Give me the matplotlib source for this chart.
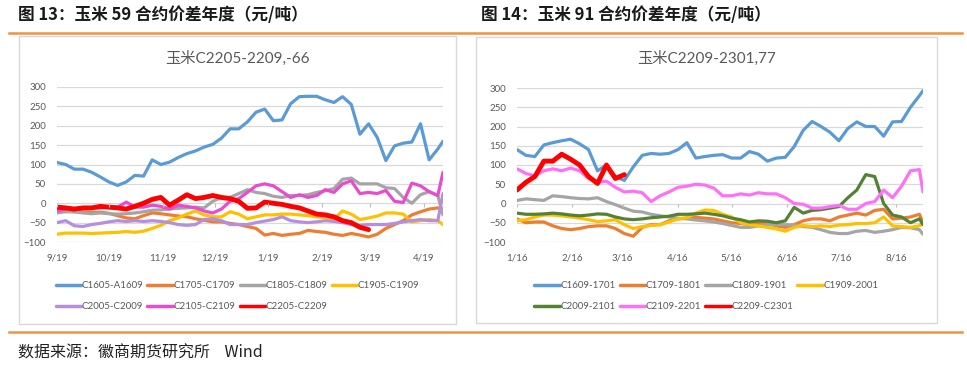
import matplotlib
matplotlib.use("Agg")
import matplotlib.pyplot as plt
import numpy as np
import pandas as pd
from matplotlib.lines import Line2D
from matplotlib.patches import Rectangle

nan = np.nan
CN = ["Noto Sans CJK SC", "DejaVu Sans"]
LAT = ["Lato", "Noto Sans CJK SC", "DejaVu Sans"]

# -------------------------------------------------------------------
# 图13 : 玉米 59 价差
# -------------------------------------------------------------------
dates_59 = list(pd.date_range("2021-09-19", periods=45, freq="5D")) + [pd.Timestamp("2022-04-30")]
names_59 = ["C1605-A1609", "C1705-C1709", "C1805-C1809", "C1905-C1909",
            "C2005-C2009", "C2105-C2109", "C2205-C2209"]
c1605 = [105, 100, 88, 88, 80, 68, 55, 46, 55, 72, 70, 112, 100, 106, 118, 128, 135, 145, 152, 168,
         192, 192, 210, 235, 243, 213, 215, 257, 275, 276, 276, 267, 260, 275, 255, 178, 205, 170,
         110, 148, 155, 158, 205, 112, 140, 160]
c1705 = [-20, -20, -22, -22, -24, -23, -26, -32, -38, -40, -32, -25, -27, -30, -33, -35, -40, -44,
         -48, -48, -52, -55, -60, -65, -82, -78, -83, -80, -78, -70, -73, -75, -80, -83, -78, -82,
         -87, -80, -65, -55, -45, -30, -22, -15, -12, -15]
c1805 = [-25, -22, -22, -25, -27, -25, -27, -28, -27, -25, -22, -18, -17, -15, -13, -12, -10, -12,
         5, 15, 15, 25, 35, 28, 25, 18, 15, 20, 20, 22, 28, 32, 38, 62, 65, 50, 50, 50, 40, 38, 15,
         0, 22, 30, 20, -30]
c1905 = [-80, -77, -77, -77, -78, -77, -76, -75, -73, -75, -72, -65, -57, -45, -38, -28, -20, -30,
         -35, -35, -22, -28, -40, -35, -30, -30, -28, -28, -30, -32, -35, -37, -40, -20, -28, -42,
         -38, -33, -25, -25, -28, -48, -45, -42, -45, -55]
c2005 = [-50, -45, -58, -60, -55, -52, -48, -45, -47, -45, -47, -45, -47, -50, -55, -57, -55, -42,
         -40, -45, -55, -55, -55, -50, -46, -42, -35, -45, -48, -50, -48, -45, -47, -50, -55, -57,
         -55, -55, -55, -52, -48, -45, -42, -45, -45, 25]
c2105 = [-20, -15, -17, -13, -12, -12, -10, -10, 3, -10, -10, -5, -8, -15, -5, -8, -12, -20, -25,
         -15, 5, 12, 28, 45, 50, 45, 30, 15, 22, 15, 20, 35, 28, 50, 58, 25, 28, 25, 33, 5, 2, 52,
         45, 30, 20, 80]
c2205 = [-10, -12, -15, -12, -12, -8, -10, -12, -15, -8, 0, 10, 15, -5, 8, 22, 12, 15, 20, 15, 12,
         5, -13, -12, 3, 0, -3, -8, -12, -20, -28, -30, -35, -45, -50, -62, -68] + [nan] * 9
ticks_59 = ["2021-09-19", "2021-10-19", "2021-11-19", "2021-12-19",
            "2022-01-19", "2022-02-19", "2022-03-19", "2022-04-19"]
labels_59 = ["9/19", "10/19", "11/19", "12/19", "1/19", "2/19", "3/19", "4/19"]

# -------------------------------------------------------------------
# 图14 : 玉米 91 价差
# -------------------------------------------------------------------
dates_91 = list(pd.date_range("2022-01-16", periods=46, freq="5D")) + [pd.Timestamp("2022-08-31")]
names_91 = ["C1609-1701", "C1709-1801", "C1809-1901", "C1909-2001",
            "C2009-2101", "C2109-2201", "C2209-C2301"]
c1609 = [140, 125, 122, 152, 158, 163, 167, 155, 140, 85, 100, 70, 60, 95, 125, 130, 128, 130, 140,
         158, 118, 122, 125, 127, 118, 118, 135, 128, 110, 118, 120, 148, 190, 213, 200, 185, 163,
         195, 212, 200, 200, 175, 212, 213, 250, 280, 293]
c1709 = [-40, -50, -48, -48, -58, -65, -68, -65, -60, -58, -58, -65, -78, -85, -62, -55, -55, -45,
         -40, -38, -36, -38, -40, -45, -50, -52, -55, -52, -52, -58, -62, -55, -45, -40, -40, -45,
         -35, -30, -25, -30, -18, -15, -40, -38, -35, -28, -50]
c1809 = [8, 12, 10, 8, 20, 18, 15, 13, 12, 15, 5, -3, -12, -20, -22, -28, -32, -35, -38, -40, -43,
         -45, -48, -52, -57, -62, -62, -58, -55, -55, -55, -56, -60, -62, -68, -75, -78, -78, -72,
         -70, -75, -72, -68, -62, -63, -68, -80]
c1909 = [-45, -42, -35, -30, -30, -32, -35, -38, -42, -47, -45, -42, -55, -65, -60, -57, -55, -48,
         -40, -37, -25, -17, -18, -28, -35, -50, -55, -58, -62, -66, -72, -62, -57, -60, -58, -60,
         -56, -55, -52, -52, -50, -35, -58, -60, -62, -58, -50]
c2009 = [-25, -28, -28, -27, -25, -27, -30, -32, -30, -27, -28, -35, -40, -42, -40, -37, -35, -33,
         -28, -28, -27, -25, -28, -32, -38, -42, -48, -45, -46, -50, -45, -10, -25, -18, -16, -12,
         -8, 15, 35, 75, 70, 0, -30, -35, -50, -40, -55]
c2109 = [90, 78, 72, 85, 90, 85, 92, 85, 65, 55, 58, 42, 30, 32, 28, 5, 20, 30, 42, 45, 50, 48, 40,
         20, 20, 25, 22, 28, 25, 25, 15, 0, -2, -12, -12, -8, -5, -15, -15, 0, 5, 35, 15, 45, 85,
         88, 30]
c2209 = [35, 55, 70, 110, 110, 128, 115, 100, 70, 52, 100, 65, 75] + [nan] * 34
ticks_91 = ["2022-01-16", "2022-02-16", "2022-03-16", "2022-04-16",
            "2022-05-16", "2022-06-16", "2022-07-16", "2022-08-16"]
labels_91 = ["1/16", "2/16", "3/16", "4/16", "5/16", "6/16", "7/16", "8/16"]

W, H = 967, 366
fig = plt.figure(figsize=(W / 100, H / 100), dpi=100)


def fx(px):
    return px / W


def fy(py):
    return 1 - py / H


def draw_panel(box, plot, dates, names, series, colors, widths, title,
               ticks, labels, title_y, leg_y):
    x0, y0, x1, y1 = box
    fig.patches.append(Rectangle((fx(x0), fy(y1)), fx(x1 - x0), (y1 - y0) / H,
                                 transform=fig.transFigure, fill=False,
                                 ec="#D9D9D9", lw=1))
    px0, py0, px1, py1 = plot
    ax = fig.add_axes([fx(px0), fy(py1), fx(px1 - px0), (py1 - py0) / H])
    handles = []
    for n, v, c, w in zip(names, series, colors, widths):
        h, = ax.plot(dates, v, color=c, lw=w, label=n,
                     solid_joinstyle="round", solid_capstyle="round")
        handles.append(h)
    ax.set_ylim(-100, 300)
    ax.set_yticks(range(-100, 301, 50))
    ax.set_xlim(dates[0], dates[-1])
    tk = pd.to_datetime(ticks)
    ax.set_xticks(tk)
    ax.set_xticklabels(labels)
    ax.vlines(tk, -9, 0, color="#BFBFBF", lw=0.8)
    ax.grid(axis="y", color="#D9D9D9", lw=0.9)
    ax.set_axisbelow(True)
    for s in ax.spines.values():
        s.set_visible(False)
    ax.tick_params(length=0, labelsize=7, labelcolor="#595959", pad=8)
    for t in ax.get_xticklabels() + ax.get_yticklabels():
        t.set_family(LAT)
    fig.text(fx((x0 + x1) / 2), fy(title_y), title, ha="center", va="center",
             fontsize=11, color="#595959", family=LAT)
    # excel style legend: fill row by row (4 columns)
    order = [0, 4, 1, 5, 2, 6, 3]
    leg = ax.legend([handles[i] for i in order], [names[i] for i in order],
                    loc="center", bbox_to_anchor=(fx((x0 + x1) / 2), fy(leg_y)),
                    bbox_transform=fig.transFigure, ncol=4, frameon=False,
                    handlelength=2.6, handletextpad=0.1, columnspacing=0.4,
                    labelspacing=1.25, prop={"family": LAT, "size": 7})
    for t in leg.get_texts():
        t.set_color("#595959")
    for l in leg.get_lines():
        l.set_linewidth(2.5)
    return ax


cols_59 = ["#5B9BD5", "#ED7D31", "#A5A5A5", "#FFC000", "#B48FE0", "#E84BD0", "#FF0000"]
cols_91 = ["#5B9BD5", "#ED7D31", "#A5A5A5", "#FFC000", "#548235", "#FF70F8", "#FF0000"]
lws = [2.3, 2.3, 2.3, 2.3, 2.3, 2.3, 3.5]

draw_panel((19, 36, 456, 324), (57, 87, 443, 242), dates_59, names_59,
           [c1605, c1705, c1805, c1905, c2005, c2105, c2205], cols_59, lws,
           "玉米C2205-2209,-66", ticks_59, labels_59, 58, 296)
draw_panel((476, 37, 937, 323), (517, 88, 923, 242), dates_91, names_91,
           [c1609, c1709, c1809, c1909, c2009, c2109, c2209], cols_91, lws,
           "玉米C2209-2301,77", ticks_91, labels_91, 58, 296)

# orange rules + headers
for yy in (32.7, 332):
    fig.add_artist(Line2D([fx(9), fx(962)], [fy(yy), fy(yy)], color="#F0923E", lw=1.8,
                          transform=fig.transFigure))
fig.text(fx(18), fy(15), "图 13：玉米 59 合约价差年度（元/吨）", fontsize=12,
         fontweight="bold", family=CN, va="center", color="#1A1A1A")
fig.text(fx(481), fy(15), "图 14：玉米 91 合约价差年度（元/吨）", fontsize=12,
         fontweight="bold", family=CN, va="center", color="#1A1A1A")
fig.text(fx(18), fy(353), "数据来源：徽商期货研究所    Wind", fontsize=11.5,
         family=CN, va="center", color="#222222")

fig.savefig("out.png", dpi=100)
